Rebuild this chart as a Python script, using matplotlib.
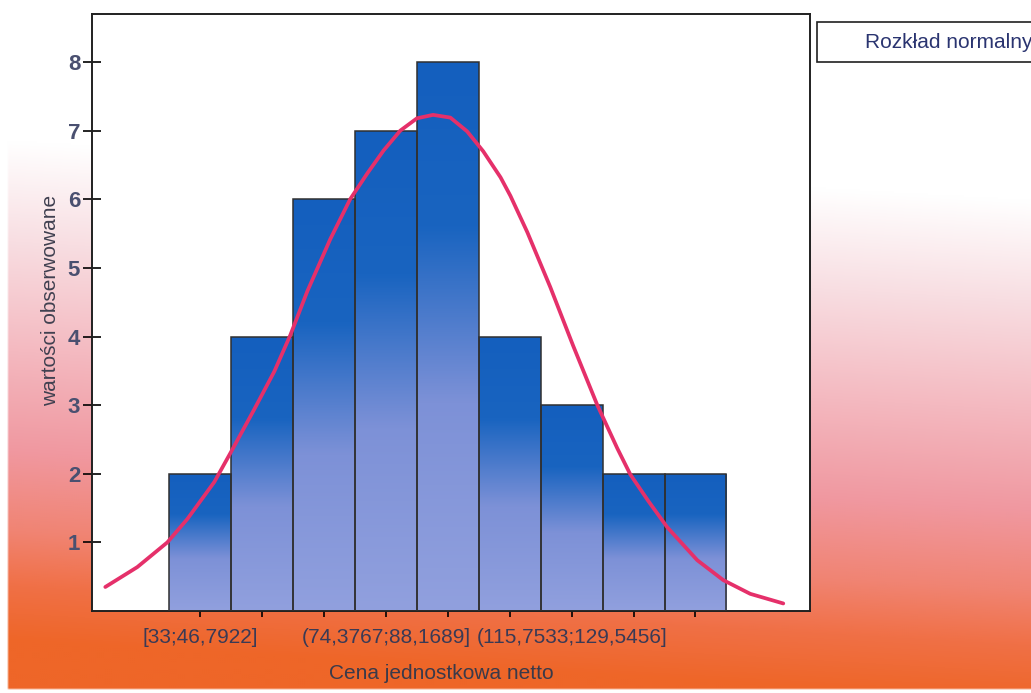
import numpy as np
import matplotlib.pyplot as plt
from matplotlib.patches import Rectangle

plt.rcParams['font.family'] = ['Liberation Sans', 'DejaVu Sans']

# histogram data
counts = [2, 4, 6, 7, 8, 4, 3, 2, 2]
bin_labels = ['[33;46,7922]', '(46,7922;60,5845]', '(60,5845;74,3767]',
              '(74,3767;88,1689]', '(88,1689;101,9611]', '(101,9611;115,7533]',
              '(115,7533;129,5456]', '(129,5456;143,3378]', '(143,3378;157,13]']
y_ticks = [1, 2, 3, 4, 5, 6, 7, 8]

# normal curve (x in bin positions)
curve_x = [-1.535, -1.018, -0.533, -0.21, 0.226, 0.485, 0.872, 1.195, 1.454,
           1.729, 2.10, 2.42, 2.70, 2.96, 3.23, 3.50, 3.76, 4.04, 4.31, 4.57,
           4.85, 5.01, 5.283, 5.654, 6.026, 6.414, 6.737, 6.947, 7.24, 7.544,
           8.029, 8.449, 8.885, 9.418]
curve_y = [0.35, 0.64, 1.00, 1.34, 1.88, 2.30, 2.94, 3.49, 4.02, 4.66, 5.42,
           6.00, 6.38, 6.71, 7.00, 7.18, 7.23, 7.19, 6.99, 6.70, 6.32, 6.05,
           5.52, 4.72, 3.86, 3.00, 2.37, 1.99, 1.60, 1.22, 0.74, 0.45, 0.25,
           0.11]

W, H = 1031, 693
fig = plt.figure(figsize=(W / 100, H / 100), dpi=100)

# scanned page background: white on top, pink to orange at the bottom
bg = fig.add_axes([0, 0, 1, 1])
bg.set_zorder(-10)
bg.axis('off')
yy, xx = np.mgrid[0:H:2, 0:W:2]
t = yy + 60 * (1 - xx / W)
stops = [0, 200, 300, 410, 510, 590, 645, 700]
cols = np.array([[255, 255, 255], [255, 255, 255], [248, 222, 226],
                 [244, 185, 192], [240, 152, 160], [240, 132, 115],
                 [240, 112, 70], [238, 102, 40]]) / 255
img = np.dstack([np.interp(t, stops, cols[:, k]) for k in range(3)])
img[yy > 688] = 1
img[xx < 8] = 1
bg.imshow(img, extent=(0, W, H, 0), aspect='auto', interpolation='bilinear')
bg.set_xlim(0, W)
bg.set_ylim(H, 0)

ax = fig.add_axes([92 / W, 1 - 611 / H, 718 / W, 597 / H])
ax.set_facecolor('white')

# bar gradient, dark blue at the top to lavender at the bottom
g = np.linspace(0, 1, 256)
gstops = [0, 0.3, 0.62, 1]
gcols = np.array([[20, 95, 190], [25, 100, 192], [125, 145, 215], [145, 160, 222]]) / 255
grad = np.dstack([np.interp(g, gstops, gcols[:, k]) for k in range(3)]).reshape(256, 1, 3)

x = np.arange(len(counts))
bars = ax.bar(x, counts, width=1.0, facecolor='none', edgecolor='#303030',
              linewidth=1.1, zorder=3)
for b in bars:
    x0 = b.get_x()
    im = ax.imshow(grad, extent=(x0, x0 + b.get_width(), 0, b.get_height()),
                   aspect='auto', zorder=2)
    im.set_clip_path(b)

ax.plot(curve_x, curve_y, color='#e5306a', lw=2.7, zorder=4,
        solid_capstyle='round', solid_joinstyle='round')

ax.set_xlim(-1.75, 9.85)
ax.set_ylim(0, 8.7)

ax.set_xticks(x)
ax.set_xticklabels([lab if i % 3 == 0 else '' for i, lab in enumerate(bin_labels)])
ax.set_yticks(y_ticks)
ax.set_yticklabels([str(v) for v in y_ticks], fontweight='bold')

ax.tick_params(axis='x', direction='out', length=4, width=1.2, pad=8,
               labelsize=15, labelcolor='#3a3a55')
ax.tick_params(axis='y', direction='inout', length=13, width=1.2, pad=2,
               labelsize=16, labelcolor='#4a5070')
for s in ax.spines.values():
    s.set_linewidth(1.4)
    s.set_color('#202020')

ax.set_xlabel('Cena jednostkowa netto', fontsize=15, color='#3a3a4a')
ax.xaxis.set_label_coords((441 - 92) / 718, -(664 - 611) / 597)
ax.set_ylabel('wartości obserwowane', fontsize=15, color='#404050')
ax.yaxis.set_label_coords(-(92 - 60) / 718, (611 - 300) / 597)

# legend box cut off at the right edge
fig.add_artist(Rectangle((817 / W, 1 - 62 / H), 0.3, 40 / H,
                         transform=fig.transFigure, facecolor='white',
                         edgecolor='#202020', linewidth=1.2))
fig.text(865 / W, 1 - 43 / H, 'Rozkład normalny', fontsize=15,
         color='#2a3470', va='center', ha='left')

fig.savefig('out.png', dpi=100)
